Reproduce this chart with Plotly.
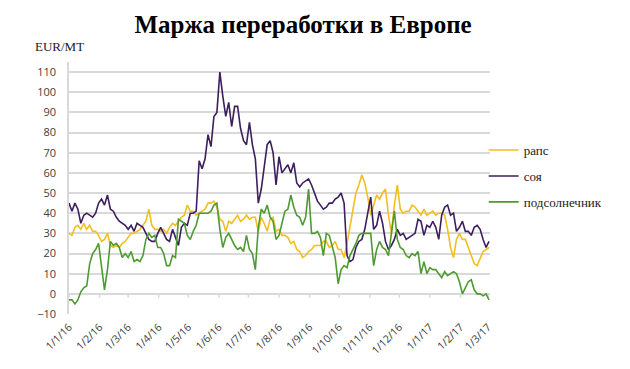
import pandas as pd
import plotly.graph_objects as go

# Sampling grid of the curves (every 3 days from 1 Jan 2016)
start_date = "2016-01-01"
n_points = 143
dates = pd.date_range(start_date, periods=n_points, freq="3D")

series_names = ["рапс", "соя", "подсолнечник"]

rapeseed = [30, 29, 33, 34, 32, 35, 32, 34, 31, 31,
            29, 26, 27, 30, 24, 23, 24, 23, 25, 26,
            28, 30, 30, 31, 32, 34, 36, 42, 34, 32,
            32, 31, 32, 30, 33,
            35, 34, 36, 38, 39, 44, 41, 41, 39, 40,
            41, 42, 45, 45, 46, 43, 37, 36, 31, 36,
            35, 37, 39, 36, 37, 39, 37, 38, 38, 31,
            38, 35, 31,
            37, 38, 31, 32, 29, 29, 28, 25, 26, 22,
            21, 18, 19, 21, 22, 24, 24, 24, 26, 26,
            23, 24, 26, 22, 22, 18, 25, 34, 41, 50,
            54, 59, 55, 48, 39,
            44, 49, 47, 50, 52, 39, 30, 44, 54, 42,
            40, 41, 41, 44, 43, 41, 39, 42, 39, 40,
            41, 39, 40, 40, 39, 32, 23, 18, 27, 30,
            27, 27, 23, 20, 15, 14, 18, 21, 22, 23]

soy = [45, 41, 45, 42, 35, 39, 40, 39, 38, 40,
       45, 47, 44, 49, 42, 41, 38, 36, 35, 34,
       32, 34, 31, 35, 34, 33, 30, 27, 26, 26,
       30, 33, 30, 27, 26,
       32, 28, 24, 33, 35, 34, 40, 40, 41, 66,
       62, 67, 79, 73, 88, 90, 110, 98, 88, 95,
       83, 93, 93, 82, 76, 74, 85, 74, 67, 45,
       52, 63, 74,
       76, 70, 54, 68, 60, 62, 64, 60, 65, 55,
       53, 55, 56, 57, 54, 50, 46, 44, 42, 43,
       45, 45, 47, 48, 50, 45, 19, 16, 17, 23,
       26, 27, 32, 40, 48,
       32, 34, 41, 35, 26, 22, 24, 27, 32, 29,
       30, 27, 28, 29, 30, 37, 36, 29, 34, 33,
       36, 33, 27, 39, 43, 44, 39, 40, 31, 33,
       36, 31, 31, 29, 33, 34, 32, 27, 23, 26]

sunflower = [-3, -3, -5, -3, 1, 3, 4, 15, 20, 22,
             25, 14, 2, 12, 26, 24, 25, 23, 18, 20,
             18, 21, 16, 17, 16, 19, 27, 30, 28, 29,
             23, 23, 20, 14, 14,
             19, 18, 37, 36, 35, 29, 27, 31, 34, 40,
             40, 40, 40, 41, 44, 45, 32, 23, 28, 30,
             27, 24, 22, 23, 21, 29, 22, 20, 12, 33,
             42, 40, 44,
             38, 36, 27, 29, 35, 41, 42, 49, 43, 39,
             38, 34, 38, 52, 30, 30, 31, 28, 19, 30,
             29, 24, 18, 5, 12, 14, 13, 19, 22, 25,
             29, 30, 30, 30, 30,
             14, 22, 26, 23, 22, 19, 30, 41, 27, 23,
             22, 19, 18, 20, 19, 21, 10, 16, 10, 13,
             12, 12, 10, 8, 11, 9, 10, 11, 10, 6,
             0, 3, 6, 7, 2, 0, 0, -1, 0, -3]

month_ticks = ["2016-01-01", "2016-02-01", "2016-03-01", "2016-04-01",
               "2016-05-01", "2016-06-01", "2016-07-01", "2016-08-01",
               "2016-09-01", "2016-10-01", "2016-11-01", "2016-12-01",
               "2017-01-01", "2017-02-01", "2017-03-01"]
y_ticks = [-10, 0, 10, 20, 30, 40, 50, 60, 70, 80, 90, 100, 110]

colors = ["#F2BE22", "#3D1E5E", "#4E9A32"]

fig = go.Figure()
for i, (name, vals) in enumerate(zip(series_names, [rapeseed, soy, sunflower])):
    fig.add_trace(go.Scatter(
        x=dates, y=vals, mode="lines", name=name,
        line=dict(color=colors[i], width=1.6),
        legendgroup=name,
    ))

grid = "#D9D9D9"
# small tick marks hanging from the zero line
for t in month_ticks:
    fig.add_shape(type="line", xref="x", yref="y", x0=t, x1=t,
                  ysizemode="pixel", yanchor=0, y0=0, y1=-4,
                  line=dict(color=grid, width=1.5), layer="below")

fig.update_layout(
    width=630, height=369,
    margin=dict(l=69, r=140, t=62, b=52, pad=0),
    paper_bgcolor="white", plot_bgcolor="white",
    title=dict(text="<b>Маржа переработки в Европе</b>",
               font=dict(family="Liberation Serif", size=25, color="#000000"),
               x=0.481, xanchor="center", y=0.935, yanchor="middle"),
    showlegend=True,
    legend=dict(x=0.985, xanchor="left", y=0.71, yanchor="top",
                font=dict(family="Liberation Serif", size=13, color="#1a1a1a"),
                bgcolor="rgba(0,0,0,0)", tracegroupgap=6,
                traceorder="grouped"),
    annotations=[dict(text="EUR/MT", xref="paper", yref="paper",
                      x=-0.086, y=1.062, xanchor="left", yanchor="middle",
                      showarrow=False,
                      font=dict(family="Liberation Serif", size=13, color="#1a1a1a"))],
)

fig.update_xaxes(
    type="date", range=["2016-01-01", "2017-03-03"],
    tickvals=month_ticks, tickformat="%-d/%-m/%y", tickangle=-45,
    showgrid=False, zeroline=False, showline=False, ticks="",
    ticklabelstandoff=4,
    tickfont=dict(family="Open Sans", size=10.5, color="#404040"),
)
fig.update_yaxes(
    range=[-10, 115], tickvals=y_ticks,
    showgrid=True, gridcolor=grid, gridwidth=1.5,
    zeroline=False, showline=True, linecolor=grid, linewidth=1.5,
    ticks="", ticklabelstandoff=9,
    tickfont=dict(family="Open Sans", size=11, color="#404040"),
)

fig.write_html("out.html",
               config={"displayModeBar": False},
               post_script="document.body.style.margin='0';document.body.style.padding='0';")
